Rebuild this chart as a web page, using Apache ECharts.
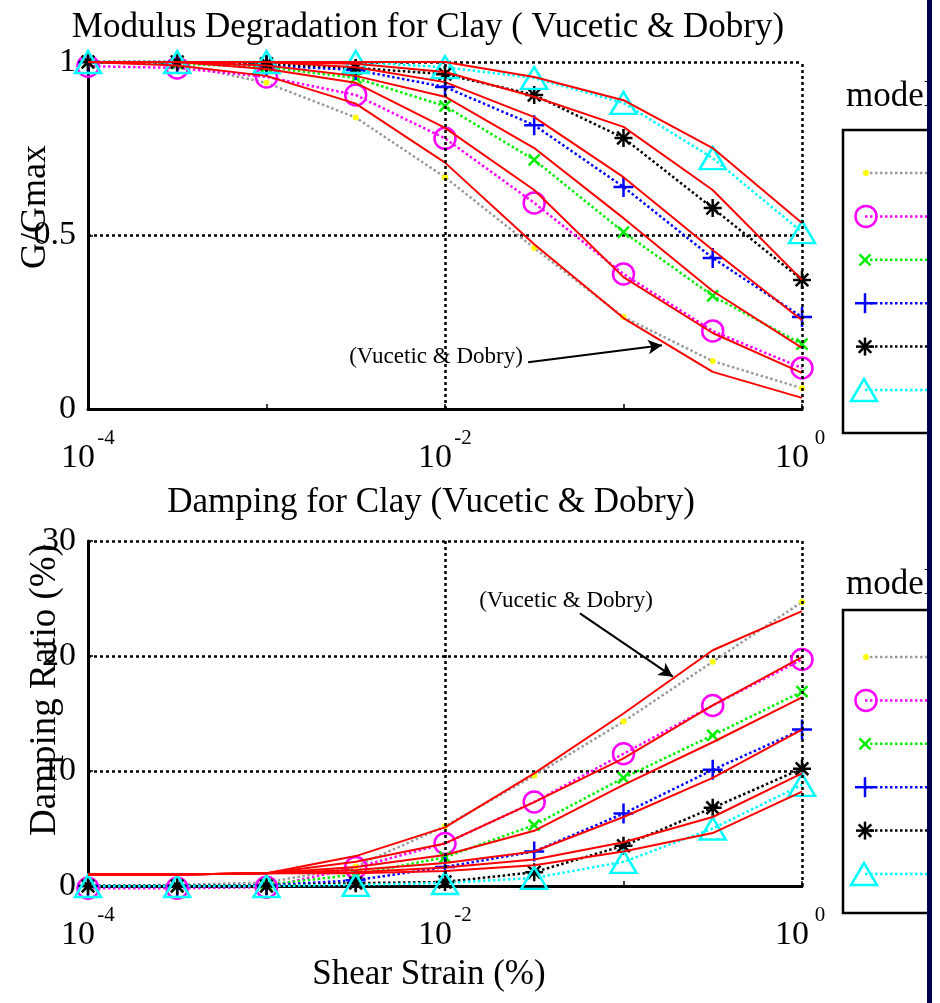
<!DOCTYPE html>
<html>
<head>
<meta charset="utf-8">
<script src="https://cdn.jsdelivr.net/npm/echarts@6/dist/echarts.min.js"></script>
<style>
  html, body { margin: 0; padding: 0; background: #fff; }
  #chart { width: 940px; height: 1003px; }
</style>
</head>
<body>
<div id="chart"></div>
<script>
// shear strain (%) at half-decade steps
const strain = [1e-4, 3.16e-4, 1e-3, 3.16e-3, 1e-2, 3.16e-2, 0.1, 0.316, 1];
const piNames = ['PI=0', 'PI=15', 'PI=30', 'PI=50', 'PI=100', 'PI=200'];

// model G/Gmax (markers)
const gModel0 = [1.0, 0.995, 0.94, 0.84, 0.668, 0.464, 0.265, 0.138, 0.06];
const gModel15 = [0.988, 0.983, 0.957, 0.905, 0.78, 0.594, 0.389, 0.225, 0.118];
const gModel30 = [1.0, 0.995, 0.985, 0.954, 0.873, 0.718, 0.51, 0.326, 0.187];
const gModel50 = [1.0, 1.0, 0.99, 0.977, 0.928, 0.818, 0.64, 0.435, 0.265];
const gModel100 = [1.0, 1.0, 0.995, 0.983, 0.965, 0.905, 0.781, 0.579, 0.372];
const gModel200 = [1.0, 1.0, 1.0, 1.0, 0.985, 0.954, 0.882, 0.723, 0.51];

// Vucetic & Dobry G/Gmax (red)
const gVD0 = [1.0, 0.99, 0.96, 0.88, 0.71, 0.475, 0.262, 0.107, 0.032];
const gVD15 = [1.0, 1.0, 0.98, 0.94, 0.81, 0.631, 0.38, 0.219, 0.104];
const gVD30 = [1.0, 1.0, 0.99, 0.96, 0.90, 0.752, 0.55, 0.34, 0.176];
const gVD50 = [1.0, 1.0, 1.0, 0.985, 0.942, 0.841, 0.668, 0.458, 0.256];
const gVD100 = [1.0, 1.0, 1.0, 0.995, 0.971, 0.90, 0.813, 0.631, 0.372];
const gVD200 = [1.0, 1.0, 1.0, 1.0, 1.0, 0.957, 0.89, 0.752, 0.536];

// model damping (%)
const dModel0 = [0, 0.1, 0.3, 1.7, 5.2, 9.6, 14.3, 19.5, 24.7];
const dModel15 = [-0.2, -0.2, -0.1, 1.6, 3.7, 7.3, 11.5, 15.7, 19.7];
const dModel30 = [0, 0, 0.1, 1.0, 2.5, 5.3, 9.4, 13.1, 16.9];
const dModel50 = [0, 0, 0.05, 0.5, 1.65, 3.0, 6.3, 10.1, 13.6];
const dModel100 = [0, 0, 0, 0.25, 0.35, 1.2, 3.5, 6.8, 10.2];
const dModel200 = [0, 0, 0, 0.1, 0.26, 0.7, 2.1, 5.0, 8.8];

// Vucetic & Dobry damping (%)
const dVD0 = [1.0, 1.0, 1.1, 2.6, 5.1, 9.8, 15.0, 20.5, 23.9];
const dVD15 = [1.0, 1.0, 1.1, 2.1, 3.7, 7.3, 11.1, 15.7, 19.9];
const dVD30 = [1.0, 1.0, 1.1, 1.65, 2.7, 4.8, 8.8, 12.5, 16.4];
const dVD50 = [1.0, 1.0, 1.1, 1.4, 2.0, 3.0, 6.0, 9.4, 13.6];
const dVD100 = [1.0, 1.0, 1.1, 1.2, 1.6, 2.3, 3.8, 6.0, 9.8];
const dVD200 = [1.0, 1.0, 1.1, 1.1, 1.3, 1.8, 3.0, 4.6, 8.2];

// annotation arrows (data coords: strain, value)
const arrowG = [[0.0292, 0.135], [0.1644, 0.184]];
const arrowD = [[0.057, 23.7], [0.189, 18.2]];

const SERIF = 'Liberation Serif';
// stroke-only marker shapes, segments in a 20x20 box
const plusSeg = [[10, 0, 10, 20], [0, 10, 20, 10]];
const xSeg = [[0, 0, 20, 20], [0, 20, 20, 0]];
const starSeg = [[10, 0, 10, 20], [0, 10, 20, 10], [3, 3, 17, 17], [3, 17, 17, 3]];
const segPath = segs => 'path://' + segs.map(s => 'M' + s[0] + ' ' + s[1] + ' L' + s[2] + ' ' + s[3]).join(' ');

const marks = [
  { line: '#9a9a9a', mark: '#ffff00', symbol: 'circle', size: 6, filled: true },
  { line: '#ff00ff', mark: '#ff00ff', symbol: 'circle', size: 21 },
  { line: '#00ee00', mark: '#00ee00', segs: xSeg, size: 11 },
  { line: '#0000ff', mark: '#0000ff', segs: plusSeg, size: 20 },
  { line: '#000000', mark: '#000000', segs: starSeg, size: 18 },
  { line: '#00ffff', mark: '#00ffff', symbol: 'triangle', size: [26, 22] }
];
marks.forEach(m => { if (m.segs) m.symbol = segPath(m.segs); });

const gModels = [gModel0, gModel15, gModel30, gModel50, gModel100, gModel200];
const gVDs = [gVD0, gVD15, gVD30, gVD50, gVD100, gVD200];
const dModels = [dModel0, dModel15, dModel30, dModel50, dModel100, dModel200];
const dVDs = [dVD0, dVD15, dVD30, dVD50, dVD100, dVD200];

const pairs = vals => strain.map((s, i) => [s, vals[i]]);

function modelSeries(i, vals, gi) {
  const m = marks[i];
  return {
    name: 'model ' + piNames[i], type: 'line', xAxisIndex: gi, yAxisIndex: gi,
    data: pairs(vals), symbol: m.symbol, symbolSize: m.size, showSymbol: true,
    clip: false, z: 3,
    lineStyle: { color: m.line, width: 2.5, type: [2.5, 2.5] },
    itemStyle: m.filled ? { color: m.mark } : { color: 'transparent', borderColor: m.mark, borderWidth: 2.5 }
  };
}

function vdSeries(i, vals, gi, arrow) {
  const s = {
    name: 'Vucetic & Dobry ' + piNames[i], type: 'line', xAxisIndex: gi, yAxisIndex: gi,
    data: pairs(vals), showSymbol: false, z: 4,
    lineStyle: { color: '#ff0000', width: 2 }
  };
  if (arrow) {
    s.markLine = {
      silent: true, symbol: ['none', 'arrow'], symbolSize: [11, 14],
      lineStyle: { color: '#000', width: 2, type: 'solid' },
      label: { show: false },
      data: [[{ coord: arrow[0] }, { coord: arrow[1] }]]
    };
  }
  return s;
}

function gridLines(gi) {
  return {
    type: 'line', xAxisIndex: gi, yAxisIndex: gi, data: [], z: 1,
    markLine: {
      silent: true, symbol: 'none', label: { show: false },
      lineStyle: { color: '#000', width: 2.5, type: [3, 3] },
      data: [{ xAxis: 0.01 }, { xAxis: 1 }]
    }
  };
}

function powLabel(v) {
  const e = Math.round(Math.log10(v));
  if (e % 2 !== 0) return '';
  return '{pad| }{sup|' + e + '}\n{base|10}{pad2| }';
}

const xAxisBase = gi => ({
  type: 'log', logBase: 10, min: 1e-4, max: 1, gridIndex: gi,
  axisLine: { lineStyle: { color: '#000', width: 3 } },
  axisTick: { inside: true, length: 5, lineStyle: { color: '#000', width: 1.5 } },
  splitLine: { show: false },
  axisLabel: {
    formatter: powLabel, margin: 22, color: '#000',
    rich: {
      pad: { width: 36, lineHeight: 14 },
      sup: { fontSize: 21, fontFamily: SERIF, color: '#000', width: 18, lineHeight: 14, align: 'left' },
      base: { fontSize: 34, fontFamily: SERIF, color: '#000', width: 36, lineHeight: 26, align: 'left' },
      pad2: { width: 18, lineHeight: 26 }
    }
  }
});

const yAxisBase = (gi, max, interval) => ({
  type: 'value', min: 0, max: max, interval: interval, gridIndex: gi,
  axisLine: { show: true, lineStyle: { color: '#000', width: 3 } },
  axisTick: { inside: true, length: 5, lineStyle: { color: '#000', width: 1.5 } },
  splitLine: { show: true, lineStyle: { color: '#000', width: 2.5, type: [3, 3] } },
  axisLabel: { fontSize: 34, fontFamily: SERIF, color: '#000', margin: 12 }
});

// legend built as graphic (labels cut off by right-edge bar as in the figure)
function legendGroup(top, bottom, titleY, rowY) {
  const els = [
    { type: 'rect', shape: { x: 843, y: top, width: 120, height: bottom - top },
      style: { fill: '#fff', stroke: '#000', lineWidth: 2.5 } },
    { type: 'text', x: 846, y: titleY,
      style: { text: 'model', fontSize: 35, fontFamily: SERIF, fill: '#000', verticalAlign: 'middle', textVerticalAlign: 'middle' } }
  ];
  marks.forEach((m, i) => {
    const y = rowY + i * 43.4;
    els.push({ type: 'line', shape: { x1: 865, y1: y, x2: 930, y2: y },
      style: { stroke: m.line, lineWidth: 2.5, lineDash: [2.5, 2.5] } });
    const s = Array.isArray(m.size) ? m.size : [m.size, m.size];
    if (m.filled) {
      els.push({ type: 'circle', shape: { cx: 866, cy: y, r: 3 }, style: { fill: m.mark } });
    } else if (m.segs) {
      const k = s[0] / 20;
      m.segs.forEach(g => els.push({ type: 'line',
        shape: { x1: 865 + (g[0] - 10) * k, y1: y + (g[1] - 10) * k, x2: 865 + (g[2] - 10) * k, y2: y + (g[3] - 10) * k },
        style: { stroke: m.mark, lineWidth: 2.5 } }));
    } else if (m.symbol === 'circle') {
      els.push({ type: 'circle', shape: { cx: 866, cy: y, r: s[0] / 2 }, style: { fill: 'none', stroke: m.mark, lineWidth: 2.5 } });
    } else {
      els.push({ type: 'polygon', shape: { points: [[864, y - s[1] / 2], [864 - s[0] / 2, y + s[1] / 2], [864 + s[0] / 2, y + s[1] / 2]] },
        style: { fill: 'none', stroke: m.mark, lineWidth: 2.5 } });
    }
  });
  return { type: 'group', z: 50, children: els };
}

const txt = (text, x, y, size, rot) => ({
  type: 'text', x: x, y: y, rotation: rot || 0, z: 60,
  style: { text: text, fontSize: size, fontFamily: SERIF, fill: '#000',
    align: 'center', verticalAlign: 'middle', textAlign: 'center', textVerticalAlign: 'middle' }
});

const chart = echarts.init(document.getElementById('chart'), null, { renderer: 'canvas' });

const series = [gridLines(0), gridLines(1)];
gModels.forEach((v, i) => series.push(modelSeries(i, v, 0)));
dModels.forEach((v, i) => series.push(modelSeries(i, v, 1)));
gVDs.forEach((v, i) => series.push(vdSeries(i, v, 0, i === 0 ? arrowG : null)));
dVDs.forEach((v, i) => series.push(vdSeries(i, v, 1, i === 0 ? arrowD : null)));

chart.setOption({
  backgroundColor: '#fff',
  animation: false,
  grid: [
    { left: 88, width: 714, top: 62, height: 347 },
    { left: 88, width: 714, top: 541, height: 345 }
  ],
  xAxis: [xAxisBase(0), xAxisBase(1)],
  yAxis: [yAxisBase(0, 1, 0.5), yAxisBase(1, 30, 10)],
  series: series,
  graphic: [
    txt('Modulus Degradation for Clay ( Vucetic & Dobry)', 428, 28, 35),
    txt('Damping for Clay (Vucetic & Dobry)', 431, 503, 35),
    txt('Shear Strain (%)', 429, 975, 35),
    txt('G/Gmax', 36, 207, 36, Math.PI / 2),
    txt('Damping Ratio (%)', 45, 690, 37, Math.PI / 2),
    txt('(Vucetic & Dobry)', 436, 357, 23),
    txt('(Vucetic & Dobry)', 566, 601, 23),
    legendGroup(130, 433, 97, 173),
    legendGroup(610, 913, 585, 657),
    { type: 'rect', z: 100, shape: { x: 927, y: 0, width: 5, height: 1003 }, style: { fill: '#000050' } },
    { type: 'rect', z: 100, shape: { x: 932, y: 0, width: 8, height: 1003 }, style: { fill: '#fff' } }
  ]
});
</script>
</body>
</html>
